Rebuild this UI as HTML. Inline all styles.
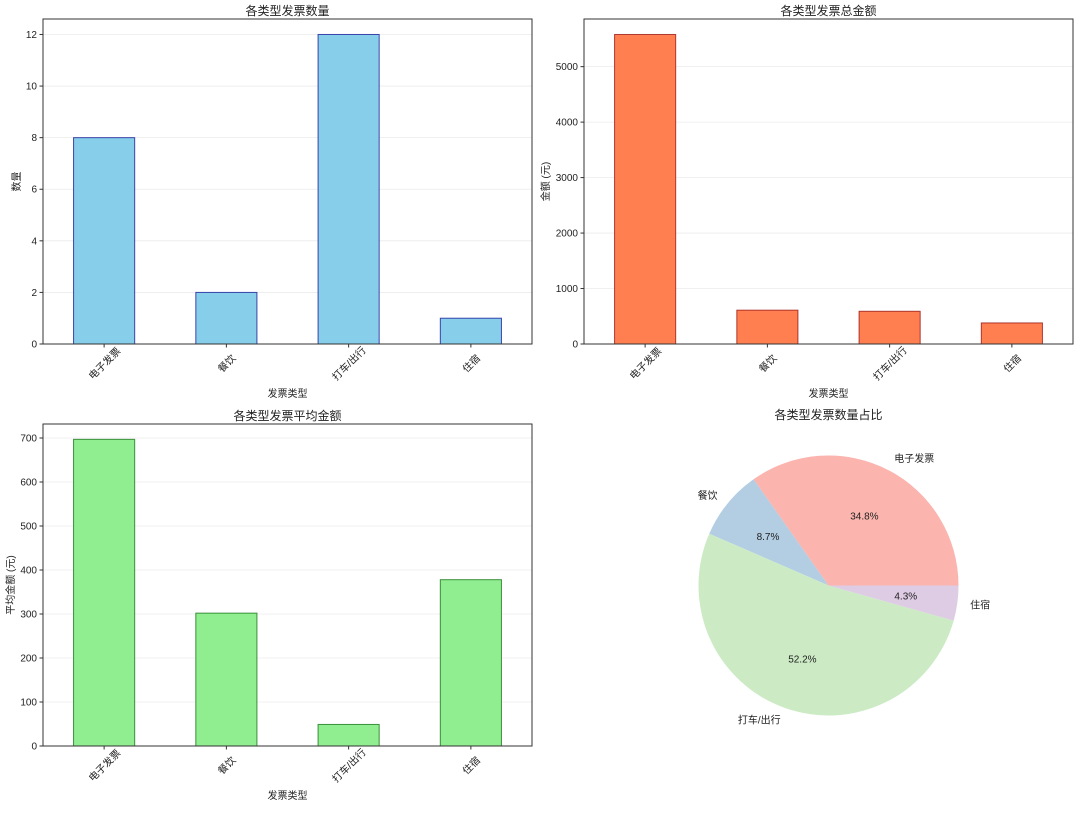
<!DOCTYPE html>
<html><head><meta charset="utf-8">
<style>
body{margin:0;background:#fff;width:1080px;height:808px;overflow:hidden}
svg text{font-family:"Liberation Sans","Noto Sans CJK SC",sans-serif;fill:#222}
</style></head>
<body>
<svg id="chart" width="1080" height="808" viewBox="0 0 1080 808" xmlns="http://www.w3.org/2000/svg"></svg>
<script>
const categories = ["电子发票","餐饮","打车/出行","住宿"];
const countValues = [8,2,12,1];
const totalValues = [5580,610,590,380];
const avgValues = [697,302,49,378];
const countTicks = [0,2,4,6,8,10,12];
const totalTicks = [0,1000,2000,3000,4000,5000];
const avgTicks = [0,100,200,300,400,500,600,700];
const pieColors = ["#fbb4ae","#b3cde3","#ccebc5","#decbe4"];

const NS="http://www.w3.org/2000/svg";
const svg=document.getElementById('chart');
function mk(tag,attrs,parent,text){
  const e=document.createElementNS(NS,tag);
  for(const k in attrs)e.setAttribute(k,attrs[k]);
  if(text!==undefined)e.textContent=text;
  (parent||svg).appendChild(e);return e;
}

function barChart(opt){
  const g=mk('g',{});
  
  
  const {x0,x1,y0,y1}=opt;
  const ymax=Math.max(...opt.values)*1.05;
  const ys=v=>y1-(v/ymax)*(y1-y0);
  const step=(x1-x0)/categories.length;
  const xs=i=>x0+step*(i+0.5);
  opt.ticks.forEach(t=>{
    const gl=mk('line',{x1:x0,x2:x1,y1:ys(t),y2:ys(t),stroke:'#ebebeb','stroke-width':0.8},g);
    
    
  });
  opt.values.forEach((v,i)=>{
    const r=mk('rect',{x:xs(i)-step/4,y:ys(v),width:step/2,height:y1-ys(v),fill:opt.fill,stroke:opt.edge,'stroke-width':1,'stroke-opacity':0.7},g);
    
    
  });
  const fr=mk('rect',{x:x0,y:y0,width:x1-x0,height:y1-y0,fill:'none',stroke:'#333','stroke-width':1},g);
  
  
  opt.ticks.forEach(t=>{
    mk('line',{x1:x0-3.5,x2:x0,y1:ys(t),y2:ys(t),stroke:'#333'},g);
    const tl=mk('text',{x:x0-6,y:ys(t)+3.5,'text-anchor':'end','font-size':10},g,String(t));
    
    
  });
  categories.forEach((c,i)=>{
    mk('line',{x1:xs(i),x2:xs(i),y1:y1,y2:y1+3.5,stroke:'#333'},g);
    const tl=mk('text',{transform:`translate(${xs(i)+1},${y1+20}) rotate(-45)`,'text-anchor':'middle','dominant-baseline':'middle','font-size':10},g,c);
    
    
  });
  const t=mk('text',{x:(x0+x1)/2,y:y0-4,'text-anchor':'middle','font-size':12},g,opt.title);
  
  
  const xl=mk('text',{x:(x0+x1)/2,y:y1+53,'text-anchor':'middle','font-size':10},g,'发票类型');
  
  
  const yl=mk('text',{transform:`translate(${x0-opt.ylOff},${(y0+y1)/2}) rotate(-90)`,'text-anchor':'middle','font-size':10},g,opt.ylabel);
  
  
}

barChart({name:'count-chart',x0:43,x1:532,y0:19,y1:344,values:countValues,ticks:countTicks,fill:'#87ceeb',edge:'#00008b',title:'各类型发票数量',ylabel:'数量',ylOff:23});
barChart({name:'total-chart',x0:584,x1:1073,y0:19,y1:344,values:totalValues,ticks:totalTicks,fill:'#ff7f50',edge:'#8b0000',title:'各类型发票总金额',ylabel:'金额 (元)',ylOff:35});
barChart({name:'average-chart',x0:43,x1:532,y0:424,y1:746,values:avgValues,ticks:avgTicks,fill:'#90ee90',edge:'#006400',title:'各类型发票平均金额',ylabel:'平均金额 (元)',ylOff:29});

(function(){
  const g=mk('g',{});
  
  
  const cx=828.5,cy=585.5,r=130;
  const total=countValues.reduce((a,b)=>a+b,0);
  let a=0;
  countValues.forEach((v,i)=>{
    const a0=a,a1=a+v/total*2*Math.PI;a=a1;
    const p0=[cx+r*Math.cos(a0),cy-r*Math.sin(a0)],p1=[cx+r*Math.cos(a1),cy-r*Math.sin(a1)];
    const large=(a1-a0)>Math.PI?1:0;
    const s=mk('path',{d:`M${cx},${cy} L${p0[0]},${p0[1]} A${r},${r} 0 ${large} 0 ${p1[0]},${p1[1]} Z`,fill:pieColors[i]},g);
    
    
    const m=(a0+a1)/2;
    const lx=cx+1.1*r*Math.cos(m),ly=cy-1.1*r*Math.sin(m);
    const lt=mk('text',{x:lx,y:ly+3.5,'text-anchor':Math.cos(m)>=0?'start':'end','font-size':10},g,categories[i]);
    
    
    const px=cx+0.6*r*Math.cos(m),py=cy-0.6*r*Math.sin(m);
    const pt=mk('text',{x:px,y:py+3.5,'text-anchor':'middle','font-size':10},g,(v/total*100).toFixed(1)+'%');
    
    
  });
  const t=mk('text',{x:cx,y:419,'text-anchor':'middle','font-size':12},g,'各类型发票数量占比');
  
  
})();
</script>
</body></html>
